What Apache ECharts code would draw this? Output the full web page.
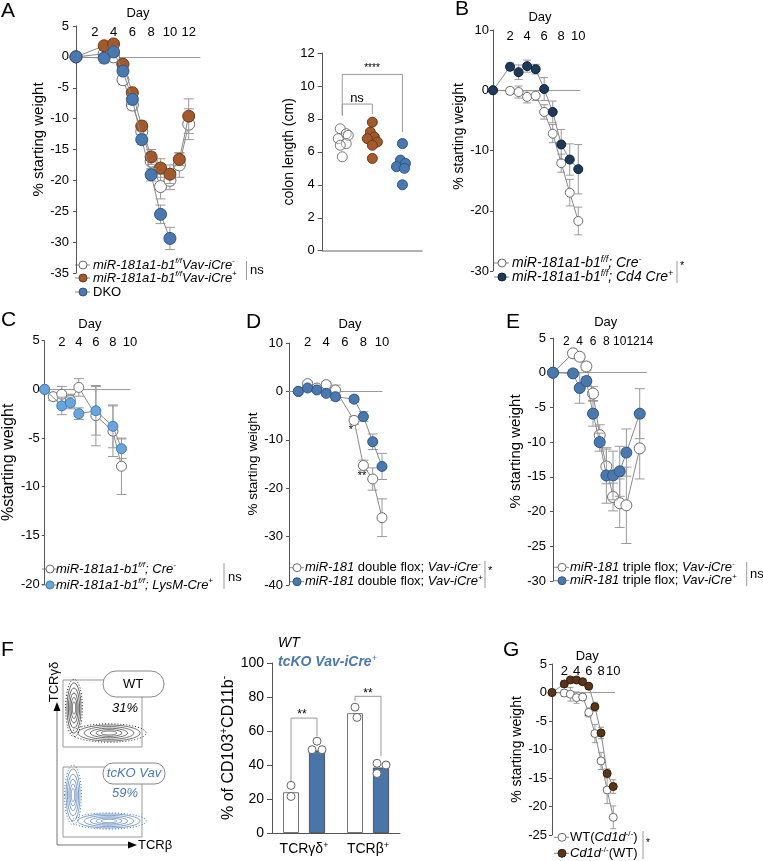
<!DOCTYPE html>
<html><head><meta charset="utf-8">
<script src="https://cdn.jsdelivr.net/npm/echarts@6/dist/echarts.min.js"></script>
<style>html,body{margin:0;padding:0;background:#fff}#c{width:763px;height:861px}</style>
</head><body><div id="c"></div>
<script>
// ================= DATA =================
// Panel A – weight
const daysA = [0,3,4,5,6,7,8,9,10,11,12];
const aWhite = [0,0.5,0,-3.7,-7.8,-12.1,-16.9,-21,-20,-17.5,-10.9];
const aWhiteErr = [0,0.6,0.6,0.8,0.8,1.0,1.4,2.0,1.5,2.0,2.5];
const aBrown = [0,1.8,2.1,-1.2,-5.8,-11.2,-16.2,-18,-19,-16.6,-9.6];
const aBrownErr = [0,0.5,0.5,0.5,0.7,0.8,1.2,1.5,1.5,1.0,2.8];
const daysADKO = [0,3,4,5,6,7,8,9,10];
const aDKO = [0,-0.2,0.8,-2.3,-6.9,-13.4,-19.1,-25.5,-29.4];
const aDKOErr = [0,0.8,0.8,0.6,0.8,0.8,1.0,1.5,1.8];
const dayTicksA = [2,4,6,8,10,12];
// Panel A – colon length
const colonWhite = [7.4,7.1,7.0,6.8,6.5,6.4,5.7];
const colonBrown = [7.8,7.2,6.9,6.8,6.6,6.4,5.6];
const colonBlue = [6.5,5.5,5.3,5.1,5.0,4.0];
const colonTicks = [0,2,4,6,8,10,12];
// Panel B
const daysB = [0,2,3,4,5,6,7,8,9,10];
const bWhite = [0,-0.1,-0.3,-1.1,-0.9,-3.6,-7.2,-12.1,-17.0,-21.7];
const bWhiteErr = [0,0.5,1.0,1.0,0.8,1.2,1.5,1.5,2.2,2.3];
const bNavy = [0,3.9,3.0,4.0,3.5,0.2,-3.6,-9.0,-11.5,-13.1];
const bNavyErr = [0,0.6,1.2,1.0,0.8,1.9,1.8,2.5,2.6,4.1];
const dayTicksB = [2,4,6,8,10];
// Panel C
const daysCWhite = [0,1,2,3,4,6,8,9];
const cWhite = [0,-0.75,-0.5,-1.1,0.2,-2.7,-4.3,-7.9];
const cWhiteErr = [0,0.4,0.8,0.6,0.9,3.1,2.6,2.9];
const daysCBlue = [0,2,3,4,6,8,9];
const cBlue = [0,-1.7,-1.4,-2.5,-2.2,-3.8,-6.1];
const cBlueErr = [0,0.9,0.6,0.6,2.5,2.2,1.0];
const dayTicksC = [2,4,6,8,10];
// Panel D
const daysD = [1,2,3,4,5,7,8,9,10];
const dWhite = [0,1.6,0.7,1.4,0.3,-6.0,-15.3,-18.1,-26.1];
const dWhiteErr = [0,0.5,0.5,0.5,1.0,0.8,1.1,2.3,3.9];
const dBlue = [0,0.7,0.3,-0.4,-1.1,-1.6,-5.2,-10.4,-15.5];
const dBlueErr = [0,0.4,0.4,0.5,0.8,0.6,1.0,1.6,2.7];
const dayTicksD = [2,4,6,8,10];
// Panel E
const daysE = [0,3,4,5,6,7,8,9,10,11,13];
const eWhite = [0,2.8,2.3,0.9,-3.0,-9.0,-13.5,-17.9,-18.8,-19.1,-10.9];
const eWhiteErr = [0,0.4,0.5,0.6,1.0,1.5,2.5,2.0,3.5,5.5,4.4];
const eBlue = [0,-0.1,-2.2,-1.2,-5.9,-10.0,-14.8,-14.8,-14.2,-11.5,-5.9];
const eBlueErr = [0,0.5,2.2,0.6,1.8,1.3,4.0,3.5,3.6,3.4,3.6];
const dayTicksE = [2,4,6,8,10,12,14];
// Panel F – bars
const fCategories = ['TCRγδ','TCRβ'];
const fWT = [24,70.5];
const fKO = [48.5,38.5];
const fWTDots = [[28,21.5],[74,68]];
const fKODots = [[54,49,49],[41,40,35]];
// Panel G
const daysG = [0,2,3,4,5,6,7,8,9,10];
const gWhite = [0,-0.1,-0.3,-0.9,-0.8,-3.5,-7.2,-12.0,-17.1,-21.9];
const gWhiteErr = [0,0.6,1.2,1.0,0.6,0.8,1.6,1.5,2.4,2.0];
const gBrown = [0,1.5,2.2,2.2,1.9,1.1,-2.5,-7.1,-14.2,-16.5];
const gBrownErr = [0,0.6,0.5,0.4,0.5,0.5,0.8,1.0,0.8,1.2];
const dayTicksG = [2,4,6,8,10];

// ================= STYLE =================
const FF = '"Liberation Sans", Arial, Helvetica, sans-serif';
const C = {
  white:'#ffffff', whiteBorder:'#6e6e6e',
  brown:'#a2592b', brownB:'#6e3a18',
  blue:'#4a79b0', blueB:'#2f5583',
  navy:'#1e3a5b', navyB:'#0f2238',
  light:'#68a5dc', lightB:'#3f7fb8',
  dbrown:'#5a3519', dbrownB:'#34200e',
  line:'#8a8a8a', err:'#9a9a9a', zero:'#9a9a9a', axis:'#555'
};
function RICH(fs, color){
  color = color || '#000';
  return {
    i:{fontStyle:'italic', fontSize:fs, lineHeight:fs+3, fontFamily:FF, color},
    n:{fontSize:fs, lineHeight:fs+3, fontFamily:FF, color},
    b:{fontStyle:'italic', fontWeight:'bold', fontSize:fs, lineHeight:fs+3, fontFamily:FF, color},
    s:{fontStyle:'italic', fontSize:Math.round(fs*0.62), lineHeight:Math.round(fs*0.5), verticalAlign:'top', fontFamily:FF, color},
    sn:{fontSize:Math.round(fs*0.62), lineHeight:Math.round(fs*0.5), verticalAlign:'top', fontFamily:FF, color}
  };
}

const grids=[], xAxes=[], yAxes=[], series=[];

function errRender(cap){
  return function(params, api){
    const x=api.value(0), y=api.value(1), e=api.value(2);
    if(!e) return {type:'group', children:[]};
    const p1=api.coord([x,y+e]), p2=api.coord([x,y-e]);
    const st={stroke:C.err, lineWidth:1};
    return {type:'group', children:[
      {type:'line', shape:{x1:p1[0],y1:p1[1],x2:p2[0],y2:p2[1]}, style:st},
      {type:'line', shape:{x1:p1[0]-cap,y1:p1[1],x2:p1[0]+cap,y2:p1[1]}, style:st},
      {type:'line', shape:{x1:p2[0]-cap,y1:p2[1],x2:p2[0]+cap,y2:p2[1]}, style:st}
    ]};
  };
}

function addWeightPanel(cfg){
  const g=grids.length; grids.push(cfg.grid);
  const xTop=xAxes.length;
  xAxes.push({type:'value', gridIndex:g, position:'top', min:0, max:cfg.xmax, interval:1,
    offset:cfg.xoff, axisLine:{show:false,onZero:false}, axisTick:{show:false}, splitLine:{show:false},
    axisLabel:{margin:2, fontSize:cfg.dfs||13, color:'#000', fontFamily:FF,
      formatter:v=>cfg.ticks.includes(v)?String(v):''},
    name:'Day', nameLocation:'middle', nameGap:cfg.dayGap,
    nameTextStyle:{fontSize:13,color:'#000',fontFamily:FF,padding:[0,0,0,cfg.dayPad]}});
  xAxes.push({type:'value', gridIndex:g, position:'bottom', min:0, max:cfg.xmax,
    axisLine:{show:true,onZero:true,lineStyle:{color:C.zero,width:1}},
    axisTick:{show:false}, axisLabel:{show:false}, splitLine:{show:false}});
  const yI=yAxes.length;
  yAxes.push({type:'value', gridIndex:g, min:cfg.ymin, max:cfg.ymax, interval:cfg.yint,
    axisLine:{show:true,onZero:false,lineStyle:{color:C.axis,width:1}},
    axisTick:{show:true,length:3,lineStyle:{color:C.axis}}, splitLine:{show:false},
    axisLabel:{margin:cfg.ylm, fontSize:13, color:'#000', fontFamily:FF},
    name:cfg.yname, nameLocation:'middle', nameGap:cfg.yng,
    nameTextStyle:{fontSize:cfg.ynfs, color:'#000', fontFamily:FF, padding:[0,0,0,cfg.ynpad]}});
  return {xTop, yI, cfg};
}
let zc=2;
function addGroup(ax, days, vals, errs, fill, border){
  const cfg=ax.cfg;
  series.push({type:'custom', xAxisIndex:ax.xTop, yAxisIndex:ax.yI, renderItem:errRender(cfg.cap),
    data:days.map((d,i)=>[d,vals[i],errs[i]]), encode:{x:0,y:1}, z:zc, silent:true});
  series.push({type:'line', xAxisIndex:ax.xTop, yAxisIndex:ax.yI, data:days.map((d,i)=>[d,vals[i]]),
    symbol:'circle', symbolSize:cfg.size, showAllSymbol:true,
    itemStyle:{color:fill, borderColor:border, borderWidth:1}, lineStyle:{color:C.line,width:1},
    z:zc+1, silent:true});
  zc+=2;
}

// ---- Panel A weight
const axA = addWeightPanel({grid:{left:76,top:26,width:124,height:247}, xmax:13.2, ymin:-35, ymax:5, yint:5,
  xoff:-14.5, dayGap:21, dayPad:0, ticks:dayTicksA, yname:'% starting weight', yng:22, ynfs:15, ynpad:20, ylm:7, size:12, cap:5});
addGroup(axA, daysA, aWhite, aWhiteErr, C.white, C.whiteBorder);
addGroup(axA, daysA, aBrown, aBrownErr, C.brown, C.brownB);
addGroup(axA, daysADKO, aDKO, aDKOErr, C.blue, C.blueB);

// ---- Panel A colon
(function(){
  const g=grids.length; grids.push({left:322.7,top:53,width:99.3,height:197.7});
  const xi=xAxes.length;
  xAxes.push({type:'value', gridIndex:g, min:-0.65, max:2.65, axisLine:{show:true,onZero:false,lineStyle:{color:'#999',width:1.5}},
    axisTick:{show:false}, axisLabel:{show:false}, splitLine:{show:false}});
  const yi=yAxes.length;
  yAxes.push({type:'value', gridIndex:g, min:0, max:12, interval:2,
    axisLine:{show:true,onZero:false,lineStyle:{color:C.axis}}, axisTick:{show:true,length:5,lineStyle:{color:C.axis}},
    splitLine:{show:false}, axisLabel:{margin:8,fontSize:13,color:'#000',fontFamily:FF, formatter:v=>colonTicks.includes(v)?String(v):''},
    name:'colon length (cm)', nameLocation:'middle', nameGap:23, nameTextStyle:{fontSize:14,color:'#000',fontFamily:FF}});
  const jit=[[-2,4,6,-4,4,-2,0],[0,-2,2,-5,5,0,0],[0,-2,3,-6,2,0]];
  const groups=[[colonWhite,'rgba(255,255,255,0.35)','#777'],[colonBrown,C.brown,C.brownB],[colonBlue,C.blue,C.blueB]];
  groups.forEach((gr,gi)=>{
    series.push({type:'scatter', xAxisIndex:xi, yAxisIndex:yi, symbolSize:10,
      itemStyle:{color:gr[1], borderColor:gr[2], borderWidth:1, opacity:1},
      data:gr[0].map((v,i)=>({value:[gi,v], symbolOffset:[jit[gi][i],0]})), z:5, silent:true});
  });
  const br={color:'#999',width:1};
  series.push({type:'line', xAxisIndex:xi, yAxisIndex:yi, symbol:'none', lineStyle:br, silent:true,
    data:[[0,8.2],[0,10.7],[2,10.7],[2,7.2]]});
  series.push({type:'line', xAxisIndex:xi, yAxisIndex:yi, symbol:'none', lineStyle:br, silent:true,
    data:[[0,8.2],[0,8.9],[1,8.9],[1,8.3]]});
})();

// ---- Panel B
const axB = addWeightPanel({grid:{left:493,top:30,width:87,height:241}, xmax:10.2, ymin:-30, ymax:10, yint:10,
  xoff:-14.5, dayGap:21, dayPad:7, ticks:dayTicksB, yname:'% starting weight', yng:23, ynfs:14, ynpad:28, ylm:4, size:9, cap:4});
addGroup(axB, daysB, bWhite, bWhiteErr, C.white, C.whiteBorder);
addGroup(axB, daysB, bNavy, bNavyErr, C.navy, C.navyB);

// ---- Panel C
const axC = addWeightPanel({grid:{left:37,top:340.7,width:93,height:243.3}, xmax:10, ymin:-20, ymax:5, yint:5,
  xoff:-10.5, dayGap:20.7, dayPad:5, ticks:dayTicksC, yname:'%starting weight', yng:25, ynfs:16, ynpad:0, ylm:5, size:10, cap:5});
addGroup(axC, daysCWhite, cWhite, cWhiteErr, C.white, C.whiteBorder);
addGroup(axC, daysCBlue, cBlue, cBlueErr, C.light, C.lightB);

// ---- Panel D
const axD = addWeightPanel({grid:{left:289,top:343,width:93,height:242}, xmax:10, ymin:-40, ymax:10, yint:10,
  xoff:-8.2, dayGap:20.7, dayPad:29, ticks:dayTicksD, yname:'% starting weight', yng:29, ynfs:13.5, ynpad:0, ylm:6, size:10, cap:5});
addGroup(axD, daysD, dWhite, dWhiteErr, C.white, C.whiteBorder);
addGroup(axD, daysD, dBlue, dBlueErr, C.blue, C.blueB);

// ---- Panel E
const axE = addWeightPanel({grid:{left:553,top:338,width:93.4,height:243}, xmax:14, ymin:-30, ymax:5, yint:5,
  xoff:-11.2, dayGap:20.7, dayPad:12, dfs:12, ticks:dayTicksE, yname:'% starting weight', yng:23.5, ynfs:15, ynpad:16, ylm:7, size:11, cap:5});
addGroup(axE, daysE, eWhite, eWhiteErr, C.white, C.whiteBorder);
addGroup(axE, daysE, eBlue, eBlueErr, C.blue, C.blueB);

// ---- Panel F bars
(function(){
  const g=grids.length; grids.push({left:272,top:663,width:128,height:170});
  const xc=xAxes.length;
  xAxes.push({type:'category', gridIndex:g, data:fCategories, boundaryGap:true,
    axisLine:{show:true,onZero:false,lineStyle:{color:C.axis}}, axisTick:{show:false},
    axisLabel:{margin:8, interval:0, hideOverlap:false, formatter:v=>`{n|${v}}{sn|+}`, rich:RICH(14)}});
  const xv=xAxes.length;
  xAxes.push({type:'value', gridIndex:g, min:-0.5, max:1.5, show:false});
  const yi=yAxes.length;
  yAxes.push({type:'value', gridIndex:g, min:0, max:100, interval:20,
    axisLine:{show:true,onZero:false,lineStyle:{color:C.axis}}, axisTick:{show:true,length:5,lineStyle:{color:C.axis}},
    splitLine:{show:false}, axisLabel:{margin:8,fontSize:14,color:'#000',fontFamily:FF},
    name:'{n|% of CD103}{sn|+}{n|CD11b}{sn|-}', nameLocation:'middle', nameGap:21,
    nameTextStyle:{rich:RICH(16)}});
  series.push({type:'bar', xAxisIndex:xc, yAxisIndex:yi, data:fWT, barWidth:16, barGap:'62.5%',
    itemStyle:{color:'#fff', borderColor:'#777', borderWidth:1}, silent:true, z:2});
  series.push({type:'bar', xAxisIndex:xc, yAxisIndex:yi, data:fKO, barWidth:16, barGap:'62.5%',
    itemStyle:{color:'#4a75a8', borderColor:'#3b3b3b', borderWidth:0.8}, silent:true, z:2});
  const side=13/64; // bar centre offset inside a category (in category units)
  const jitWT=[[0,0],[0,2]], jitKO=[[0,-5,5],[-4,5,-4]];
  const dots=[];
  fWTDots.forEach((arr,ci)=>arr.forEach((v,i)=>dots.push({value:[ci-side,v], symbolOffset:[jitWT[ci][i],0]})));
  fKODots.forEach((arr,ci)=>arr.forEach((v,i)=>dots.push({value:[ci+side,v], symbolOffset:[jitKO[ci][i],0]})));
  series.push({type:'scatter', xAxisIndex:xv, yAxisIndex:yi, data:dots, symbolSize:8,
    itemStyle:{color:'#fff', borderColor:'#666', borderWidth:1, opacity:1}, z:5, silent:true});
  const br={color:'#999',width:1};
  series.push({type:'line', xAxisIndex:xv, yAxisIndex:yi, symbol:'none', lineStyle:br, silent:true,
    data:[[-side,29.4],[-side,67.6],[side,67.6],[side,57]]});
  series.push({type:'line', xAxisIndex:xv, yAxisIndex:yi, symbol:'none', lineStyle:br, silent:true,
    data:[[1-side,77.5],[1-side,80.4],[1+side,80.4],[1+side,45]]});
})();

// ---- Panel G
const axG = addWeightPanel({grid:{left:552,top:664,width:62.5,height:171}, xmax:10.2, ymin:-25, ymax:5, yint:5,
  xoff:-16.2, dayGap:17, dayPad:8, ticks:dayTicksG, yname:'% starting weight', yng:22, ynfs:14, ynpad:0, ylm:5, size:8, cap:3});
addGroup(axG, daysG, gWhite, gWhiteErr, C.white, C.whiteBorder);
addGroup(axG, daysG, gBrown, gBrownErr, C.dbrown, C.dbrownB);

// ================= GRAPHIC (legends, labels, annotations) =================
const gr=[];
function txt(x,y,text,fs,opt){
  opt=opt||{};
  gr.push({type:'text', x, y, rotation:opt.rot||0, silent:true, style:{text, rich:RICH(fs,opt.color), fill:opt.color||'#000',
    font:(opt.italic?'italic ':'')+(opt.bold?'bold ':'')+fs+'px '+FF,
    align:opt.align||'left', verticalAlign:'middle'}});
}
function legendItem(cx,cy,fill,stroke,text,fs,dx,r){
  gr.push({type:'line', silent:true, shape:{x1:cx-8,y1:cy,x2:cx+7,y2:cy}, style:{stroke:'#888',lineWidth:1}});
  gr.push({type:'circle', silent:true, shape:{cx,cy,r:r||4}, style:{fill,stroke,lineWidth:1}});
  txt(cx+dx,cy,text,fs);
}
function brace(x,y1,y2,label,fs,lx,ly){
  gr.push({type:'line', silent:true, shape:{x1:x,y1,x2:x,y2}, style:{stroke:'#999',lineWidth:1}});
  txt(lx,ly,label,fs);
}
// panel letters
[['A',1,11],['B',455,9],['C',1,320],['D',246,322],['E',506,322],['F',1,650],['G',503,650]].forEach(p=>txt(p[1],p[2],'{n|'+p[0]+'}',21));

// A legend
legendItem(83,265,C.white,C.whiteBorder,'{i|miR-181a1-b1}{s|f/f}{i|Vav-iCre}{s|-}',13,10);
legendItem(83,278,C.brown,C.brownB,'{i|miR-181a1-b1}{s|f/f}{i|Vav-iCre}{s|+}',13,10);
legendItem(83,292,C.blue,C.blueB,'{n|DKO}',13,10);
brace(246.5,261,280,'{n|ns}',13,250,270);
// colon annotations
txt(372,68,'{n|****}',10,{align:'center'});
txt(357,98,'{n|ns}',13,{align:'center'});
// B legend
legendItem(502,263,C.white,C.whiteBorder,'{i|miR-181a1-b1}{s|f/f}{i|; Cre}{s|-}',14,10);
legendItem(502,277,C.navy,C.navyB,'{i|miR-181a1-b1}{s|f/f}{i|; Cd4 Cre}{s|+}',14,10);
brace(677,261,283,'{n|*}',11,680,266);
// C legend
legendItem(50,569,C.white,C.whiteBorder,'{i|miR-181a1-b1}{s|f/f}{i|; Cre}{s|-}',13,6);
legendItem(50,585,C.light,C.lightB,'{i|miR-181a1-b1}{s|f/f}{i|; LysM-Cre}{s|+}',13,6);
brace(224,563,589,'{n|ns}',13,228,577);
// D legend + stars
legendItem(297,567.7,C.white,C.whiteBorder,'{i|miR-181}{n| double flox; }{i|Vav-iCre}{s|-}',13,8);
legendItem(297,581.7,C.blue,C.blueB,'{i|miR-181}{n| double flox; }{i|Vav-iCre}{s|+}',13,8);
brace(485,561,588,'{n|*}',11,488,571);
txt(351,430,'{n|*}',11,{align:'center'});
txt(362,476,'{n|**}',11,{align:'center'});
// E legend
legendItem(562,567.3,C.white,C.whiteBorder,'{i|miR-181}{n| triple flox; }{i|Vav-iCre}{s|-}',13,8);
legendItem(562,580.7,C.blue,C.blueB,'{i|miR-181}{n| triple flox; }{i|Vav-iCre}{s|+}',13,8);
brace(746.7,562,586,'{n|ns}',13,750,574);
// G legend + stars
legendItem(562,837.3,C.white,C.whiteBorder,'{n|WT(}{i|Cd1d}{sn|-/-}{n|)}',13,8);
legendItem(562,853.3,C.dbrown,C.dbrownB,'{i|Cd1d}{sn|-/-}{n|(WT)}',13,8);
brace(643,831,859,'{n|*}',10,646,843);
txt(587,717,'{n|**}',7,{align:'center'});
// F bar legend + stars
txt(278,643,'{i|WT}',14);
txt(278,662,'{b|tcKO Vav-iCre}{s|+}',14,{color:'#4a78b0'});
txt(302,715,'{n|**}',12,{align:'center'});
txt(368,694,'{n|**}',12,{align:'center'});

// F flow cytometry sketch
const flowLevels=[1,0.8,0.6,0.42,0.25];
function contour(cx,cy,rx,ry,color){
  gr.push({type:'ellipse', silent:true, shape:{cx,cy,rx:rx*1.2,ry:ry*1.15}, style:{fill:'none',stroke:color,lineWidth:1,lineDash:[1,2]}});
  flowLevels.forEach(k=>gr.push({type:'ellipse', silent:true, shape:{cx,cy,rx:rx*k,ry:ry*k}, style:{fill:'none',stroke:color,lineWidth:0.7}}));
}
gr.push({type:'rect', silent:true, shape:{x:63,y:680,width:79,height:67}, style:{fill:'none',stroke:'#999',lineWidth:1}});
gr.push({type:'rect', silent:true, shape:{x:63,y:767,width:79,height:70}, style:{fill:'none',stroke:'#999',lineWidth:1}});
contour(74,708,7,25,'#222'); contour(109,733,31,8,'#333');
contour(73,795,7,26,'#4a78b8'); contour(109,821,31,7,'#4a78b8');
gr.push({type:'rect', silent:true, shape:{x:103,y:671,width:61,height:26,r:13}, style:{fill:'#fff',stroke:'#888',lineWidth:1}});
txt(133,684,'{n|WT}',13,{align:'center'});
txt(125,708,'{i|31%}',13,{align:'center'});
gr.push({type:'rect', silent:true, shape:{x:103,y:763,width:62,height:21,r:10}, style:{fill:'#fff',stroke:'#888',lineWidth:1}});
txt(134,773,'{i|tcKO Vav}',13,{align:'center',color:'#4a78b8'});
txt(125,793,'{i|59%}',13,{align:'center',color:'#4a78b8'});
gr.push({type:'line', silent:true, shape:{x1:57,y1:845,x2:57,y2:710}, style:{stroke:'#777',lineWidth:1}});
gr.push({type:'polygon', silent:true, shape:{points:[[57,702],[53.5,711],[60.5,711]]}, style:{fill:'#000'}});
gr.push({type:'line', silent:true, shape:{x1:57,y1:845,x2:129,y2:845}, style:{stroke:'#777',lineWidth:1}});
gr.push({type:'polygon', silent:true, shape:{points:[[137,845],[128,841.5],[128,848.5]]}, style:{fill:'#000'}});
txt(54,682,'{n|TCRγδ}',13,{align:'center',rot:Math.PI/2});
txt(138,845,'{n|TCRβ}',13);

// ================= RENDER =================
const chart=echarts.init(document.getElementById('c'),null,{renderer:'canvas'});
chart.setOption({
  animation:false,
  backgroundColor:'#fff',
  textStyle:{fontFamily:FF},
  grid:grids, xAxis:xAxes, yAxis:yAxes, series, graphic:gr
});
</script></body></html>
